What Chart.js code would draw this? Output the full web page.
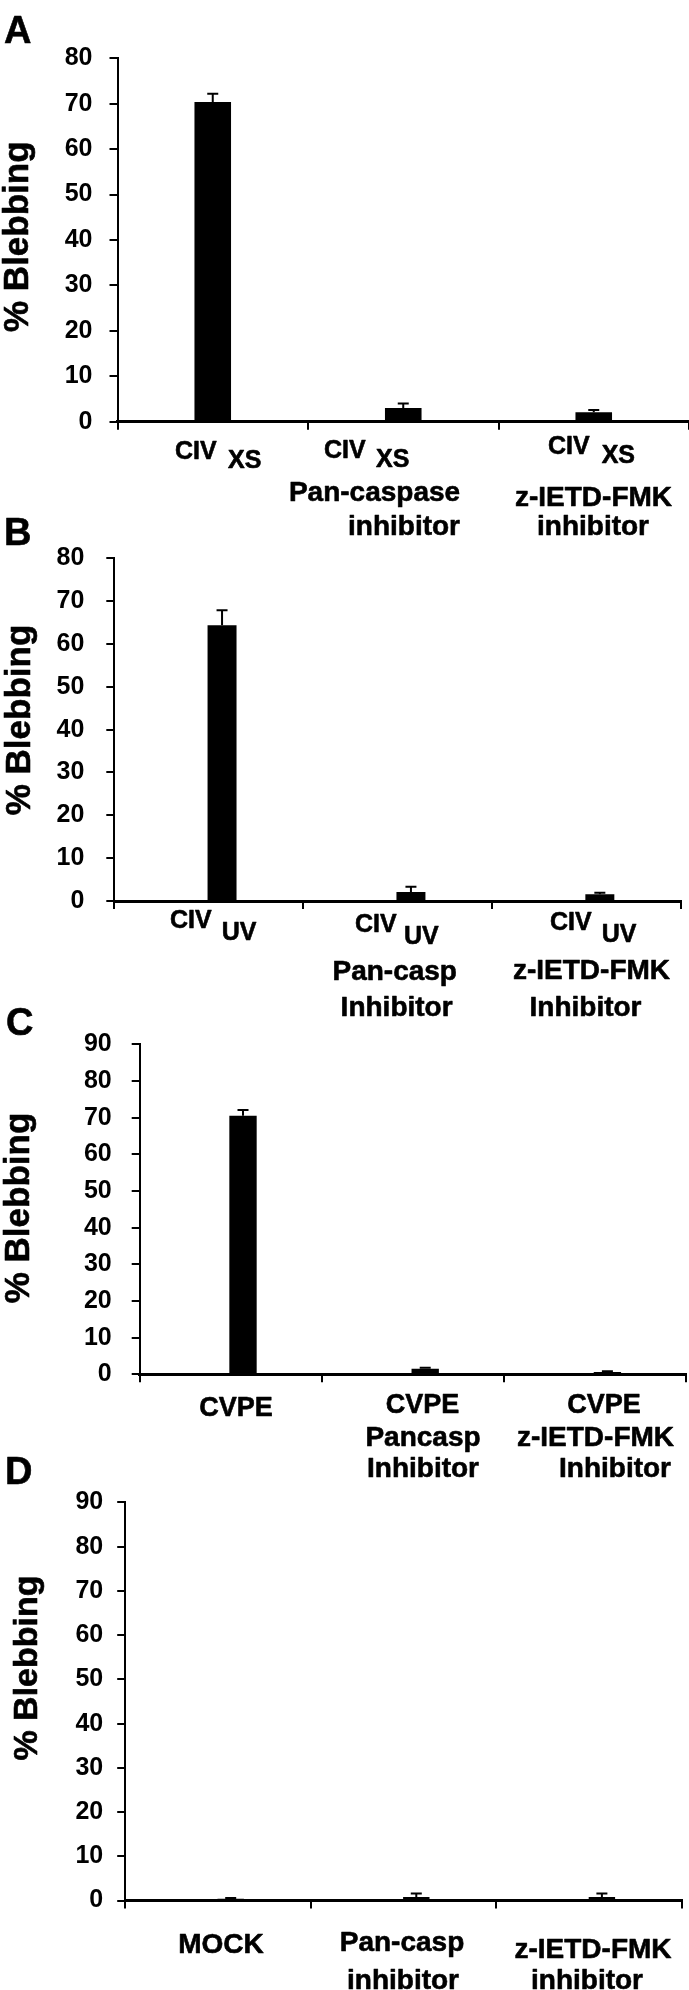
<!DOCTYPE html>
<html>
<head>
<meta charset="utf-8">
<script src="https://cdn.jsdelivr.net/npm/chart.js@4.4.1/dist/chart.umd.min.js"></script>
<style>
html,body{margin:0;padding:0;background:#fff;}
#wrap{position:relative;width:689px;height:1990px;overflow:hidden;background:#fff;}
canvas{position:absolute;left:0;top:0;}
</style>
</head>
<body>
<div id="wrap">
<canvas id="cA" width="689" height="1990"></canvas>
<canvas id="cB" width="689" height="1990"></canvas>
<canvas id="cC" width="689" height="1990"></canvas>
<canvas id="cD" width="689" height="1990"></canvas>
</div>
<script>
// ---------------- DATA ----------------
const yTitle = "% Blebbing";
const panelLetters = ["A", "B", "C", "D"];

const yTicksA = [0, 10, 20, 30, 40, 50, 60, 70, 80];
const yTicksB = [0, 10, 20, 30, 40, 50, 60, 70, 80];
const yTicksC = [0, 10, 20, 30, 40, 50, 60, 70, 80, 90];
const yTicksD = [0, 10, 20, 30, 40, 50, 60, 70, 80, 90];

const labelLinesA = [["CIV", "XS"], ["CIV", "XS", "Pan-caspase", "inhibitor"], ["CIV", "XS", "z-IETD-FMK", "inhibitor"]];
const labelLinesB = [["CIV", "UV"], ["CIV", "UV", "Pan-casp", "Inhibitor"], ["CIV", "UV", "z-IETD-FMK", "Inhibitor"]];
const labelLinesC = [["CVPE"], ["CVPE", "Pancasp", "Inhibitor"], ["CVPE", "z-IETD-FMK", "Inhibitor"]];
const labelLinesD = [["MOCK"], ["Pan-casp", "inhibitor"], ["z-IETD-FMK", "inhibitor"]];

const valuesA = [70.4, 3.0, 2.1];
const errorsA = [1.8, 1.0, 0.5];

const controlB = [0, 0, 0];
const valuesB = [64.4, 2.1, 1.6];
const errorsB = [3.5, 1.2, 0.3];

const controlC = [0, 0, 0];
const valuesC = [70.5, 1.5, 0.6];
const errorsC = [1.6, 0.3, 0.2];

const controlD = [0, 0, 0];
const valuesD = [0.4, 0.8, 0.8];
const errorsD = [0.2, 0.8, 0.8];

// ---------------- LAYOUT / STYLE ----------------
const FONT = '"Liberation Sans", Arial, Helvetica, sans-serif';
const PAGE_W = 689, PAGE_H = 1990;

const layouts = {
  A: { axisX: 117.5, right: 689, top: 58.3, zero: 421.7, tickPad: 17, catPct: 0.192, barPct: 1,
       letter: { x: 17.6, y: 42.6 }, title: { x: 18.7, y: 236.7, size: 35 },
       lines: [
         [{ x: 175, y: 459, s: 25, a: "left" }, { x: 228, y: 468, s: 25, a: "left" }],
         [{ x: 324, y: 458, s: 25, a: "left" }, { x: 376, y: 467, s: 25, a: "left" }, { x: 374.5, y: 501, s: 28, a: "center" }, { x: 404, y: 535, s: 28, a: "center" }],
         [{ x: 548, y: 454, s: 25, a: "left" }, { x: 601.7, y: 463, s: 25, a: "left" }, { x: 593.5, y: 506, s: 28, a: "center" }, { x: 593, y: 535, s: 28, a: "center" }]
       ] },
  B: { axisX: 114.3, right: 681, top: 558.3, zero: 901, tickPad: 22, catPct: 0.2815, barPct: 1.09,
       letter: { x: 17.6, y: 545 }, title: { x: 20.4, y: 720, size: 35 },
       lines: [
         [{ x: 170, y: 928, s: 25, a: "left" }, { x: 221.7, y: 940, s: 25, a: "left" }],
         [{ x: 355, y: 932, s: 25, a: "left" }, { x: 404, y: 944, s: 25, a: "left" }, { x: 394.7, y: 980, s: 28, a: "center" }, { x: 396.6, y: 1016, s: 28, a: "center" }],
         [{ x: 550, y: 930, s: 25, a: "left" }, { x: 601.7, y: 941.7, s: 25, a: "left" }, { x: 591.5, y: 979, s: 28, a: "center" }, { x: 585.5, y: 1016, s: 28, a: "center" }]
       ] },
  C: { axisX: 139.7, right: 686.3, top: 1044.3, zero: 1374.3, tickPad: 20, catPct: 0.268, barPct: 1.12,
       letter: { x: 19.8, y: 1035 }, title: { x: 19.8, y: 1208, size: 35 },
       lines: [
         [{ x: 236, y: 1416, s: 27, a: "center" }],
         [{ x: 422.5, y: 1413, s: 27, a: "center" }, { x: 423, y: 1446, s: 28, a: "center" }, { x: 423, y: 1477, s: 28, a: "center" }],
         [{ x: 604, y: 1413, s: 27, a: "center" }, { x: 595.5, y: 1446, s: 28, a: "center" }, { x: 615, y: 1477, s: 28, a: "center" }]
       ] },
  D: { axisX: 125.2, right: 682, top: 1502.4, zero: 1900.6, tickPad: 14, catPct: 0.2736, barPct: 1.04,
       letter: { x: 18.7, y: 1484 }, title: { x: 27.5, y: 1668, size: 34 },
       lines: [
         [{ x: 221, y: 1953, s: 28, a: "center" }],
         [{ x: 402, y: 1951, s: 28, a: "center" }, { x: 403, y: 1989, s: 28, a: "center" }],
         [{ x: 593, y: 1958, s: 28, a: "center" }, { x: 587, y: 1989, s: 28, a: "center" }]
       ] }
};

function makePanel(key, canvasId, letter, ticks, labelLines, control, values, errors) {
  const L = layouts[key];
  const ymax = ticks[ticks.length - 1];
  const datasets = [];
  if (control) {
    datasets.push({ label: "control", data: control, backgroundColor: "#000", borderWidth: 0,
                    categoryPercentage: L.catPct, barPercentage: L.barPct });
  }
  datasets.push({ label: "% Blebbing", data: values, backgroundColor: "#000", borderWidth: 0,
                  categoryPercentage: L.catPct, barPercentage: L.barPct });
  const mainIndex = datasets.length - 1;

  const errPlugin = {
    id: "err" + key,
    afterDatasetsDraw(chart) {
      const meta = chart.getDatasetMeta(mainIndex);
      const ys = chart.scales.y;
      const ctx = chart.ctx;
      ctx.save();
      ctx.strokeStyle = "#000";
      ctx.lineWidth = 2;
      meta.data.forEach((bar, i) => {
        const yTop = ys.getPixelForValue(values[i] + errors[i]);
        ctx.beginPath();
        ctx.moveTo(bar.x, bar.y);
        ctx.lineTo(bar.x, yTop);
        ctx.moveTo(bar.x - 5.5, yTop);
        ctx.lineTo(bar.x + 5.5, yTop);
        ctx.stroke();
      });
      ctx.restore();
    }
  };

  const textPlugin = {
    id: "txt" + key,
    afterDraw(chart) {
      const ctx = chart.ctx;
      ctx.save();
      ctx.fillStyle = "#000";
      ctx.strokeStyle = "#000";
      ctx.lineWidth = 0.6;
      ctx.lineJoin = "round";
      ctx.font = "bold 38px " + FONT;
      ctx.textAlign = "center";
      ctx.textBaseline = "alphabetic";
      ctx.fillText(letter, L.letter.x, L.letter.y);
      ctx.strokeText(letter, L.letter.x, L.letter.y);
      ctx.save();
      ctx.translate(L.title.x, L.title.y);
      ctx.rotate(-Math.PI / 2);
      ctx.font = "bold " + L.title.size + "px " + FONT;
      ctx.textAlign = "center";
      ctx.textBaseline = "middle";
      ctx.fillText(yTitle, 0, 0);
      ctx.strokeText(yTitle, 0, 0);
      ctx.restore();
      labelLines.forEach((lines, ci) => {
        lines.forEach((txt, li) => {
          const p = L.lines[ci][li];
          ctx.font = "bold " + p.s + "px " + FONT;
          ctx.textAlign = p.a;
          ctx.textBaseline = "alphabetic";
          ctx.fillText(txt, p.x, p.y);
          ctx.strokeText(txt, p.x, p.y);
        });
      });
      ctx.restore();
    }
  };

  return new Chart(document.getElementById(canvasId), {
    type: "bar",
    data: { labels: labelLines.map(l => l.join(" ")), datasets },
    options: {
      responsive: false,
      animation: false,
      events: [],
      layout: { padding: { left: 0, top: L.top, right: PAGE_W - L.right, bottom: 0 } },
      plugins: { legend: { display: false }, tooltip: { enabled: false }, title: { display: false } },
      scales: {
        x: {
          type: "category",
          offset: true,
          afterFit: s => { s.height = PAGE_H - L.zero; },
          ticks: { display: false },
          grid: { display: true, offset: true, drawOnChartArea: false, drawTicks: true,
                  tickLength: 8, color: "#000", lineWidth: 2 },
          border: { display: true, color: "#000", width: 3 }
        },
        y: {
          type: "linear",
          min: 0,
          max: ymax,
          afterFit: s => { s.width = L.axisX; },
          afterBuildTicks: s => { s.ticks = ticks.map(v => ({ value: v })); },
          ticks: { color: "#000", padding: L.tickPad, font: { family: FONT, size: 25, weight: "bold" } },
          grid: { display: true, drawOnChartArea: false, drawTicks: true, tickLength: 8,
                  color: "#000", lineWidth: 2 },
          border: { display: true, color: "#000", width: 2 },
          title: { display: false }
        }
      }
    },
    plugins: [errPlugin, textPlugin]
  });
}

makePanel("A", "cA", panelLetters[0], yTicksA, labelLinesA, null, valuesA, errorsA);
makePanel("B", "cB", panelLetters[1], yTicksB, labelLinesB, controlB, valuesB, errorsB);
makePanel("C", "cC", panelLetters[2], yTicksC, labelLinesC, controlC, valuesC, errorsC);
makePanel("D", "cD", panelLetters[3], yTicksD, labelLinesD, controlD, valuesD, errorsD);
</script>
</body>
</html>
